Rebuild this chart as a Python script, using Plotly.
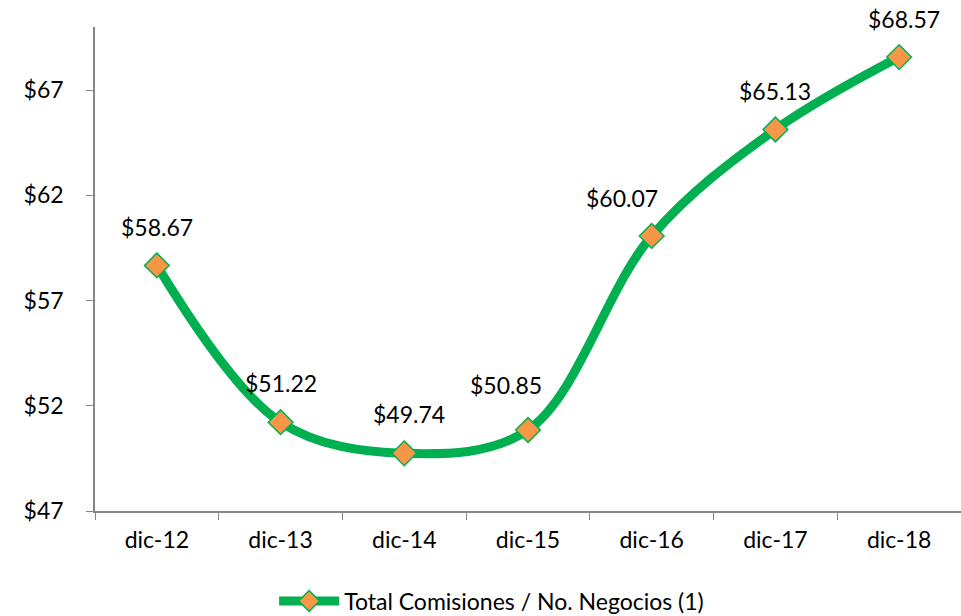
import plotly.graph_objects as go

categories = ["dic-12", "dic-13", "dic-14", "dic-15", "dic-16", "dic-17", "dic-18"]
values = [58.67, 51.22, 49.74, 50.85, 60.07, 65.13, 68.57]
series_name = "Total Comisiones / No. Negocios (1)"
y_ticks = [47, 52, 57, 62, 67]
y_tick_labels = ["$47", "$52", "$57", "$62", "$67"]

# label placement offsets (style only)
label_xshift = [0, 0, 5, -22, -30, 0, 5]
label_yshift = [38, 39, 39, 45, 38, 38, 38]

FONT = "Lato, 'Open Sans', sans-serif"
FS = 23
GREEN = "#00B050"

fig = go.Figure()
fig.add_trace(go.Scatter(
    x=categories, y=values, mode="lines+markers", name=series_name,
    line=dict(color=GREEN, width=9, shape="spline", smoothing=1.0),
    marker=dict(symbol="diamond", size=19, color="#F79646",
                line=dict(color=GREEN, width=1.5)),
    hoverinfo="skip",
))

for c, v, dx, dy in zip(categories, values, label_xshift, label_yshift):
    fig.add_annotation(x=c, y=v, text=f"${v:.2f}", showarrow=False,
                       xshift=dx, yshift=dy,
                       font=dict(family=FONT, size=FS, color="#000000"))

fig.update_layout(
    width=961, height=616,
    margin=dict(l=95, r=0, t=27, b=105, autoexpand=False),
    paper_bgcolor="white", plot_bgcolor="white",
    font=dict(family=FONT, size=FS, color="#000000"),
    showlegend=True,
    legend=dict(orientation="h", x=0.458, xanchor="center", y=-0.186, yanchor="middle",
                font=dict(family=FONT, size=FS, color="#000000"),
                itemwidth=60, bgcolor="rgba(0,0,0,0)"),
)
fig.update_xaxes(
    type="category", showgrid=False, showline=True, linecolor="#868686", linewidth=1.5,
    ticks="outside", tickson="boundaries", ticklen=7, tickcolor="#868686",
    tickfont=dict(family=FONT, size=FS), range=[-0.5, 6.5], zeroline=False,
    automargin=False, ticklabelstandoff=8,
)
fig.update_yaxes(
    range=[47, 70], tickvals=y_ticks, ticktext=y_tick_labels, showgrid=False,
    showline=True, linecolor="#868686", linewidth=1.5, ticks="outside", ticklen=7,
    tickcolor="#868686", tickfont=dict(family=FONT, size=FS), zeroline=False,
    automargin=False, ticklabelstandoff=18,
)

fig.write_html("out.html", config={"displayModeBar": False},
               post_script="document.body.style.margin='0';document.body.style.overflow='hidden';")
